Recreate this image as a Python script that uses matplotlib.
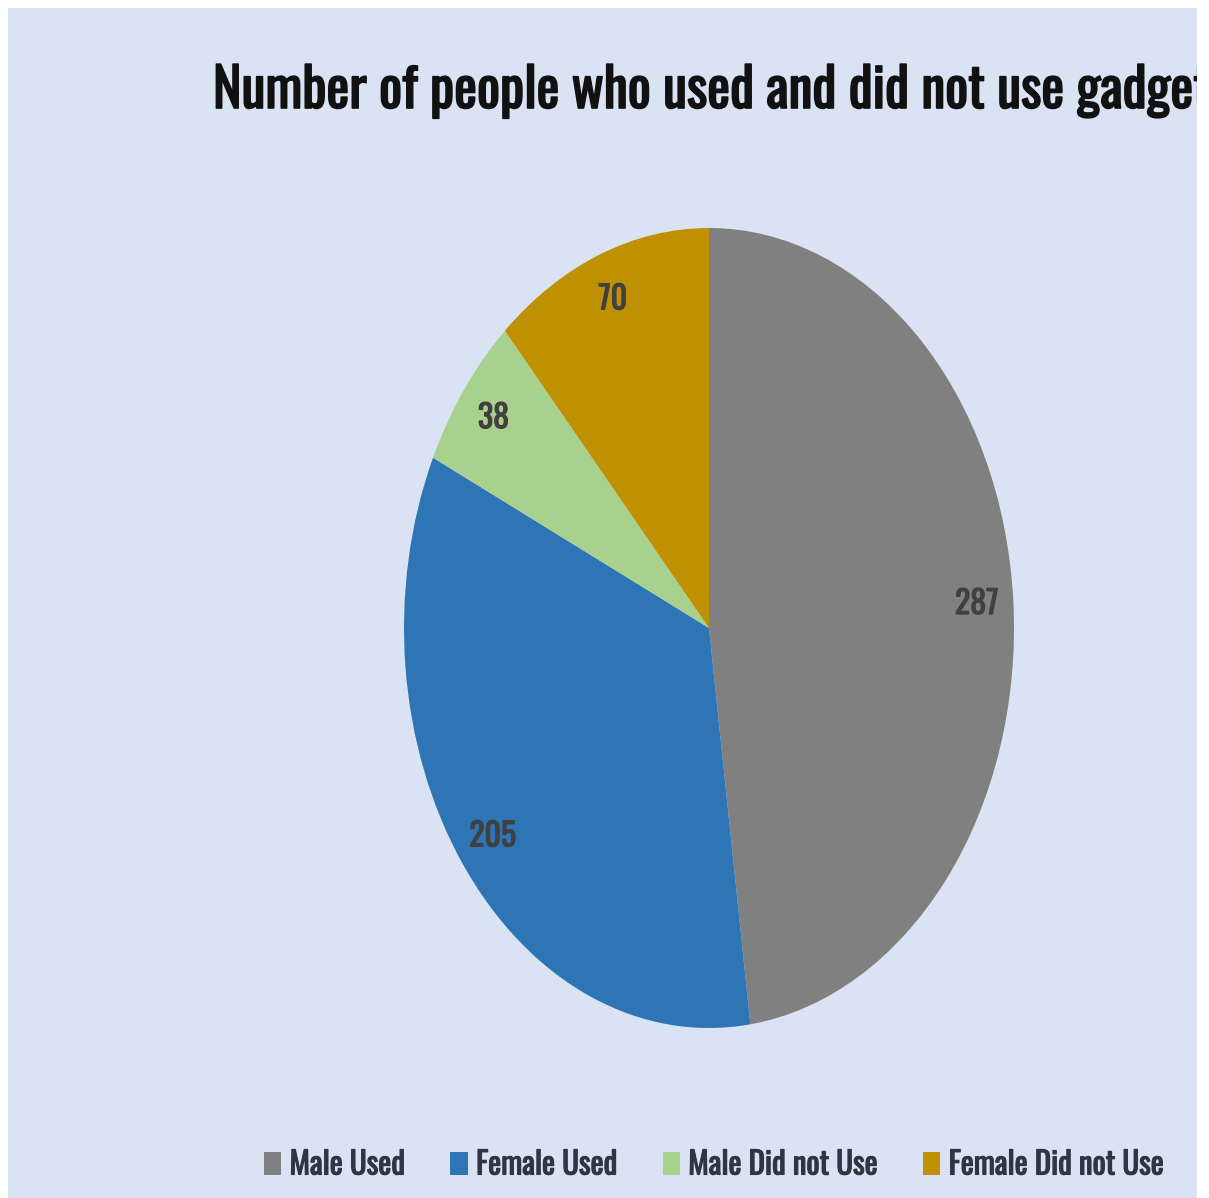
import matplotlib.pyplot as plt
import matplotlib.patheffects as pe
from matplotlib.patches import Rectangle

categories = ["Male Used", "Female Used", "Male Did not Use", "Female Did not Use"]
counts = [287, 205, 38, 70]
colors = ["#808080", "#2E75B6", "#A9D18E", "#BF9000"]
title = "Number of people who used and did not use gadget"

# condensed faces first, plain fonts as fallback
FONT = ["Oswald", "Barlow Condensed", "Liberation Sans Narrow", "DejaVu Sans"]


def heavy(width, color):
    # thicken the strokes a little, the condensed face has no bold cut
    return [pe.withStroke(linewidth=width, foreground=color)]


W, H = 1209, 1198
fig = plt.figure(figsize=(W / 100, H / 100), dpi=100, facecolor="white")

# light blue chart area with a thin white margin
bg = Rectangle((8 / W, 0), (1197 - 8) / W, (H - 8) / H, transform=fig.transFigure,
               facecolor="#DAE3F3", edgecolor="none", zorder=-10)
fig.patches.append(bg)

# the pie is stretched vertically, so the axes are taller than wide
ax = fig.add_axes([404 / W, 170 / H, 610 / W, 800 / H])
total = sum(counts)
wedges, _, autotexts = ax.pie(
    counts, colors=colors, startangle=90, counterclock=False,
    autopct=lambda p: f"{round(p * total / 100):d}", pctdistance=0.88,
    wedgeprops=dict(linewidth=0),
    textprops=dict(family=FONT, fontweight="bold", fontsize=23, color="#404040",
                   path_effects=heavy(0.8, "#404040")))
ax.set_aspect("auto")
ax.set_xlim(-1, 1)
ax.set_ylim(-1, 1)
ax.axis("off")

# title runs past the right edge of the chart area and is cut there
t = fig.text(213 / W, 1 - 108 / H, title, family=FONT, fontweight="bold",
             fontsize=39, color="#111111", ha="left", va="baseline",
             path_effects=heavy(1.2, "#111111"))
t.set_clip_path(bg)

leg = fig.legend(wedges, categories, loc="center", bbox_to_anchor=(714 / W, 33 / H),
                 ncol=4, frameon=False, handlelength=0.56, handleheight=0.75,
                 handletextpad=0.27, columnspacing=1.45,
                 prop=dict(family=FONT, weight="bold", size=22.3), labelcolor="#2F3544")
for txt in leg.get_texts():
    txt.set_path_effects(heavy(0.8, "#2F3544"))

fig.savefig("out.png", dpi=100, facecolor="white")
